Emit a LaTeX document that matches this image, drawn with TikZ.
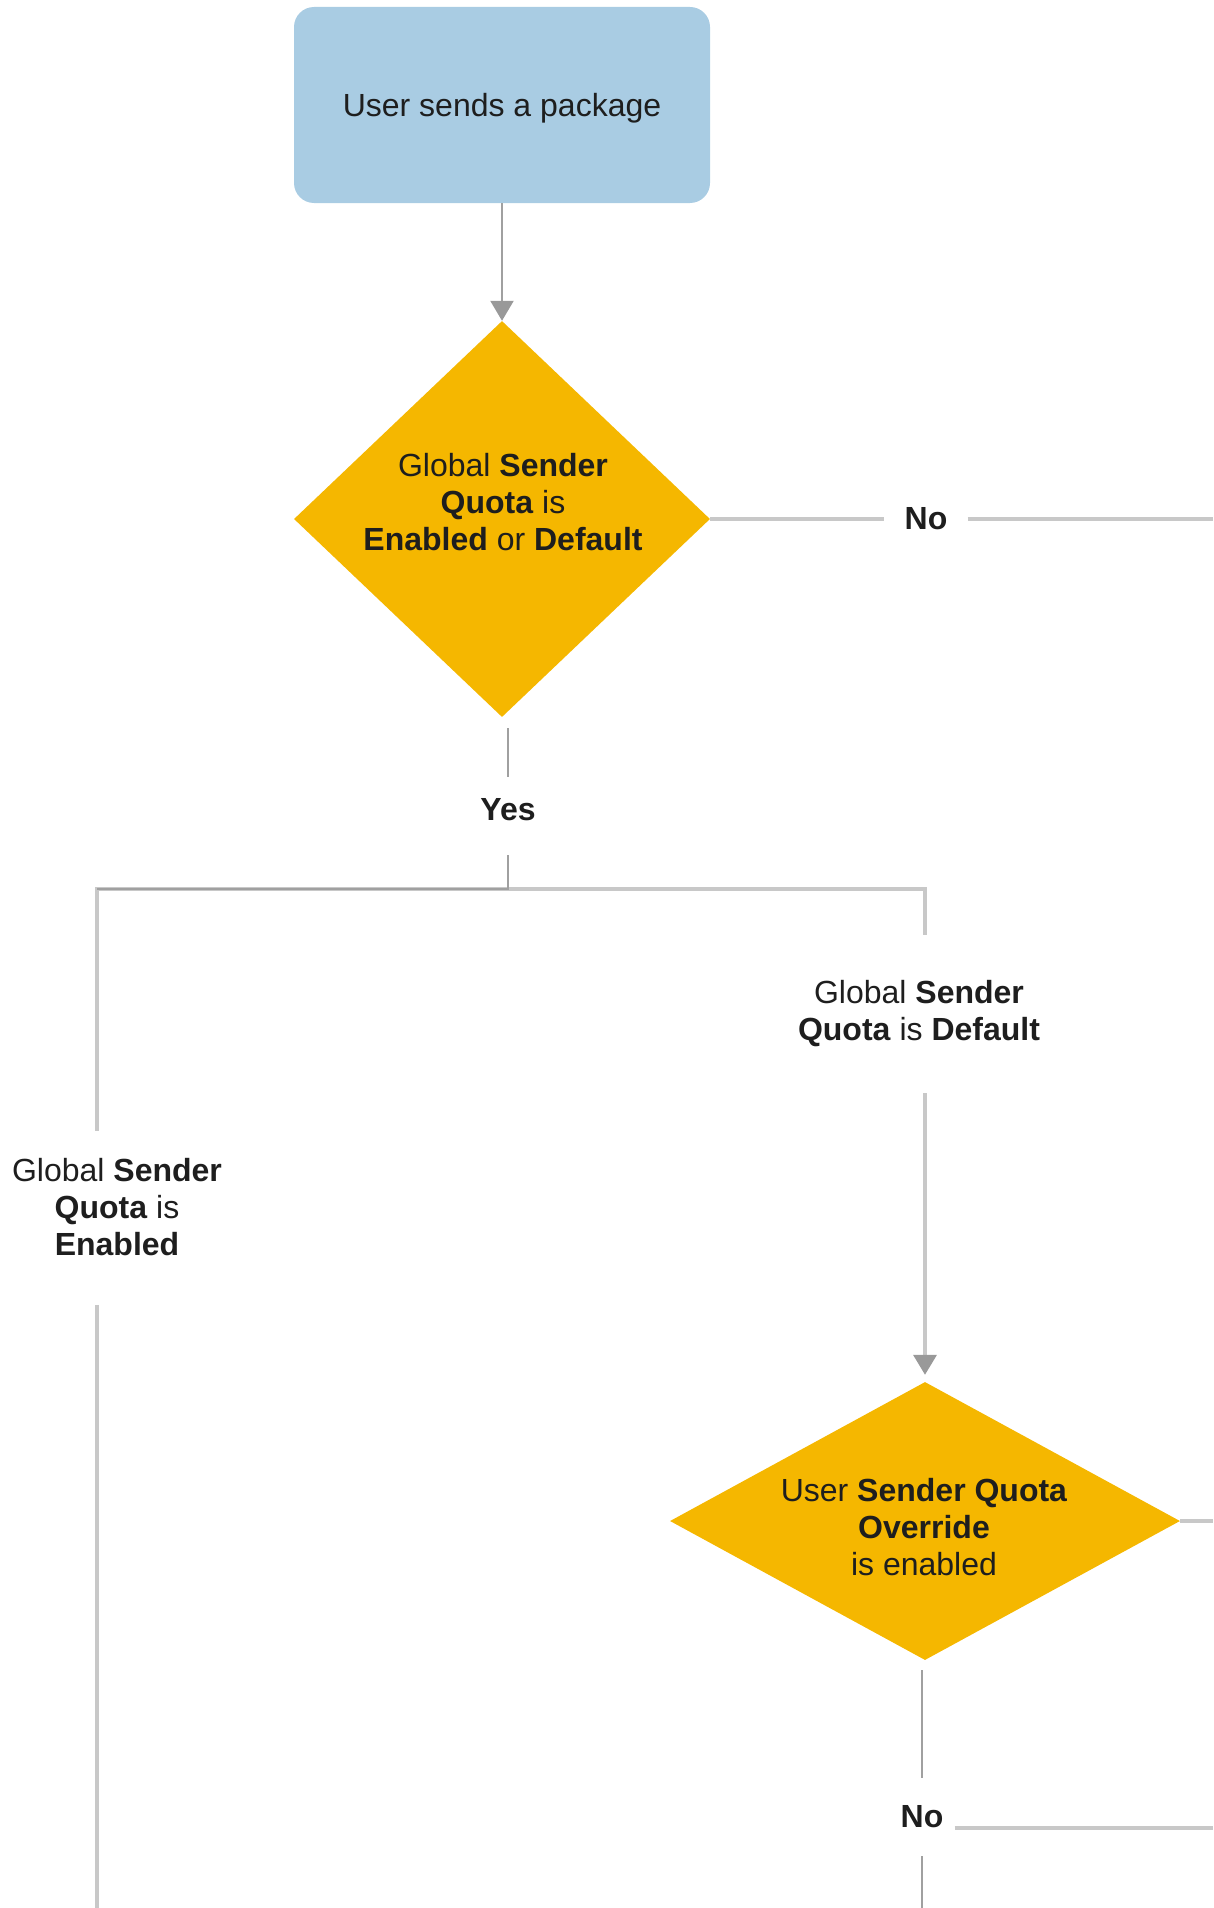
\documentclass[tikz,border=0pt]{standalone}
\usepackage{fontspec}
\setmainfont{Liberation Sans}
\usetikzlibrary{shapes.geometric,arrows.meta}
\definecolor{boxblue}{HTML}{A9CCE3}
\definecolor{decyellow}{HTML}{F5B700}
\definecolor{lineLight}{HTML}{C8C8C8}
\definecolor{lineDark}{HTML}{A0A0A0}
\definecolor{tipGray}{HTML}{999999}
\definecolor{txt}{HTML}{1E1E1E}
\begin{document}
\begin{tikzpicture}[x=1pt,y=-1pt,
  every node/.style={text=txt, font=\fontsize{32}{37}\selectfont},
  startbox/.style={rectangle, rounded corners=20pt, fill=boxblue, minimum width=416pt, minimum height=196pt, inner sep=0pt},
  decision/.style={diamond, fill=decyellow, inner sep=0pt},
  lbl/.style={align=center, inner sep=0pt},
  lightline/.style={draw=lineLight, line width=3.5pt},
  darkline/.style={draw=lineDark, line width=2.2pt},
  tip/.style={-{Triangle[width=23pt,length=20pt,color=tipGray,fill=tipGray]}}
]
\useasboundingbox (0,0) rectangle (1213,1908);
\coordinate (bot) at (0,1908);
\coordinate (redge) at (1213,0);

% nodes
\node[startbox] (start) at (502,105) {};
\node[lbl] (starttext) at (502,108) {User sends a package};
\node[decision, minimum width=416pt, minimum height=396pt] (q1) at (502,519) {};
\node[lbl] (q1text) at (503,502) {Global \textbf{Sender}\\\textbf{Quota} is\\\textbf{Enabled} or \textbf{Default}};
\node[lbl, inner xsep=20pt] (no1) at (926,519) {\textbf{No}};
\node[lbl, anchor=base, text height=43pt, text depth=35pt] (yes) at (508,820) {\textbf{Yes}};
\coordinate (j) at (508,889);
\coordinate (jl) at (97,889);
\coordinate (jr) at (925,889);
\node[lbl, inner ysep=27pt] (enabled) at (117,1207) {Global \textbf{Sender}\\\textbf{Quota} is\\\textbf{Enabled}};
\node[lbl, inner ysep=46pt] (default) at (919,1014) {Global \textbf{Sender}\\\textbf{Quota} is \textbf{Default}};
\node[decision, minimum width=510pt, minimum height=278pt] (q2) at (925,1521) {};
\node[lbl] (q2text) at (924,1527) {User \textbf{Sender Quota}\\\textbf{Override}\\is enabled};
\node[lbl, inner ysep=28pt, inner xsep=11pt] (no2) at (922,1817) {\textbf{No}};

% connectors
\draw[darkline, tip] (start.south) -- (q1.north);
\draw[lightline] (q1.east) -- (q1.east -| no1.west);
\draw[lightline] (no1.east) -- (no1.east -| redge);
\draw[darkline, shorten <=11pt] (yes.north |- q1.south) -- (yes.north);
\draw[lightline] (j) -- (jl) -- (jl |- enabled.north);
\draw[lightline] (j) -- (jr) -- (jr |- default.north);
\draw[darkline] (yes.south) -- (j) -- (jl);
\draw[lightline, shorten <=22pt] (jl |- enabled.south) -- (jl |- bot);
\draw[lightline, tip, shorten >=7pt] (jr |- default.south) -- (q2.north);
\draw[lightline] (q2.east) -- (q2.east -| redge);
\draw[darkline, shorten <=10pt] (no2.north |- q2.south) -- (no2.north);
\draw[darkline] (no2.south) -- (no2.south |- bot);
\draw[lightline] (no2.base east) -- (no2.base east -| redge);
\end{tikzpicture}
\end{document}
